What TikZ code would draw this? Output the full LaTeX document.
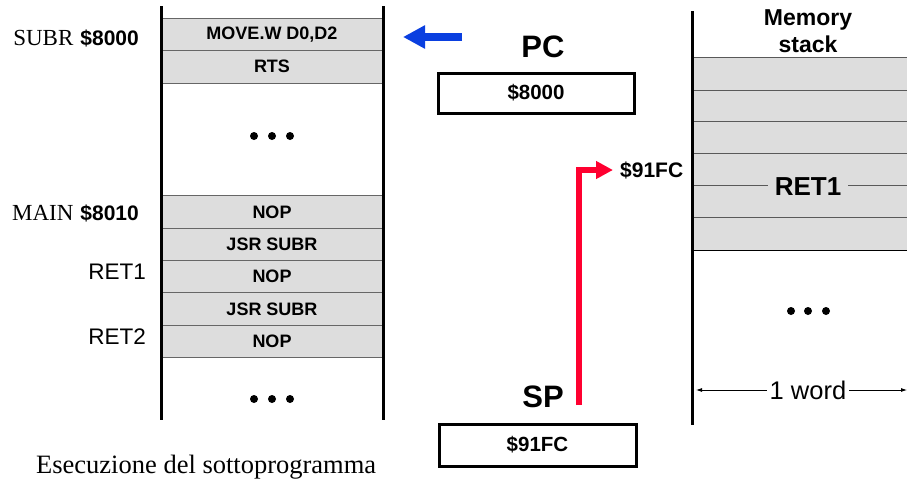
\documentclass[tikz,border=0pt]{standalone}
\usepackage{fontspec}
\setmainfont{Liberation Serif}
\setsansfont{Liberation Sans}
\usetikzlibrary{arrows.meta}
\definecolor{cellgray}{HTML}{DDDDDD}
\definecolor{arrblue}{HTML}{0A3FE0}
\definecolor{arrred}{HTML}{FF0030}
\newcommand{\fsz}[1]{\fontsize{#1}{#1}\selectfont}
\begin{document}
\begin{tikzpicture}[x=1pt,y=-1pt,
  cell/.style={draw=black!60, line width=0.9pt, fill=cellgray, minimum width=222pt, minimum height=32.3pt, inner sep=0pt, font=\sffamily\bfseries\fsz{18}},
  regbox/.style={draw=black, line width=3pt, inner sep=0pt, font=\sffamily\bfseries\fsz{20.5}},
  reglabel/.style={font=\sffamily\bfseries\fsz{31}, inner sep=0pt},
  sidelabel/.style={anchor=east, inner sep=0pt},
  colline/.style={line width=3pt, line cap=butt},
  stackline/.style={draw=black!65, line width=0.9pt},
  dot/.style={fill=black},
  bluearrow/.style={draw=arrblue, line width=8pt, -{Triangle[length=22pt,width=22pt]}},
  redarrow/.style={draw=arrred, line width=6pt, line join=miter, -{Triangle[length=17pt,width=17pt]}},
  wordarrow/.style={draw=black, line width=0.8pt, -{Latex[length=6pt,width=4pt]}}
]
\useasboundingbox (0,0) rectangle (907,482);

% ---- left memory column ----
\node[cell] (m1) at (272,34.5) {MOVE.W D0,D2};
\node[cell] (m2) at (272,66.8) {RTS};
\node[cell] (n1) at (272,212) {NOP};
\node[cell] (j1) at (272,244.3) {JSR SUBR};
\node[cell] (n2) at (272,276.6) {NOP};
\node[cell] (j2) at (272,308.9) {JSR SUBR};
\node[cell] (n3) at (272,341.2) {NOP};
\draw[colline] (161,6) -- (161,420);
\draw[colline] (383,6) -- (383,420);
\foreach \x in {254,272,290} {\fill[dot] (\x,136) circle (4); \fill[dot] (\x,399) circle (4);}

% ---- left labels ----
\node[sidelabel] (lsubr) at (139,38) {{\rmfamily\fsz{23}SUBR}\hspace{7pt}{\sffamily\bfseries\fsz{21}\$8000}};
\node[sidelabel] (lmain) at (139,213) {{\rmfamily\fsz{23}MAIN}\hspace{7pt}{\sffamily\bfseries\fsz{21}\$8010}};
\node[sidelabel, font=\sffamily\fsz{22.5}] (lret1) at (146,272) {RET1};
\node[sidelabel, font=\sffamily\fsz{22.5}] (lret2) at (146,337) {RET2};
\node[anchor=west, inner sep=0pt, font=\rmfamily\fsz{26.5}] (cap) at (36,467) {Esecuzione del sottoprogramma};

% ---- PC ----
\coordinate (bs) at (462,37);
\coordinate (be) at (403,37);
\draw[bluearrow] (bs) -- (be);
\node[reglabel] (pc) at (543,47) {PC};
\node[regbox, minimum width=196pt, minimum height=40pt] (pcbox) at (536,93) {\$8000};

% ---- SP ----
\node[reglabel] (sp) at (543,397) {SP};
\node[regbox, minimum width=197pt, minimum height=42pt] (spbox) at (537.5,445) {\$91FC};
\node[anchor=west, inner sep=0pt, font=\sffamily\bfseries\fsz{21}] (fc) at (620,170) {\$91FC};
\coordinate (sptail) at (579,405);
\draw[redarrow] (sptail) |- ([xshift=-7pt]fc.west);

% ---- memory stack ----
\fill[cellgray] (693,57) rectangle (907,250);
\foreach \y in {57,90,121,153,217} {\draw[stackline] (693,\y) -- (907,\y);}
\draw[black, line width=0.9pt] (693,250) -- (907,250);
\draw[stackline] (693,185) -- (907,185);
\node[fill=cellgray, inner xsep=7pt, inner ysep=2pt, font=\sffamily\bfseries\fsz{26}] (sret1) at (808,187) {RET1};
\draw[colline] (692,11) -- (692,425);
\node[align=center, inner sep=0pt, font=\sffamily\bfseries\fsz{23}] (mst) at (808,31) {Memory\\[4pt]stack};
\foreach \x in {791,808,826} {\fill[dot] (\x,311) circle (4);}

\node[fill=white, inner sep=3pt, font=\sffamily\fsz{25.5}] (word) at (808,390) {1 word};
\coordinate (wl) at (696,390);
\coordinate (wr) at (907,390);
\draw[wordarrow] (word.west) -- (wl);
\draw[wordarrow] (word.east) -- (wr);
\end{tikzpicture}
\end{document}
